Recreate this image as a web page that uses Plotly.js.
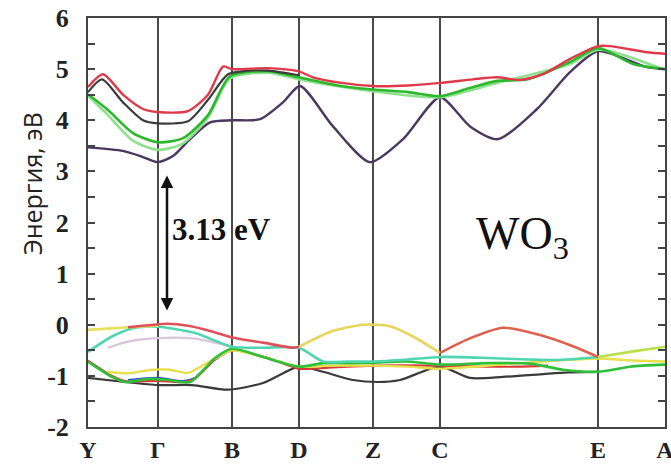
<!DOCTYPE html>
<html>
<head>
<meta charset="utf-8">
<script src="https://cdn.plot.ly/plotly-3.0.1.min.js"></script>
<style>html,body{margin:0;padding:0;background:#fff;}#chart{width:671px;height:464px;}</style>
</head>
<body>
<div id="chart"></div>
<script>
// High-symmetry k-points (path coordinate) and labels
const kLabels = ['Y', 'Γ', 'B', 'D', 'Z', 'C', 'E', 'A'];
const kPos = [0, 70, 144, 211, 285, 352, 510, 577];
const yTickVals = [-2, -1, 0, 1, 2, 3, 4, 5, 6];
const yTickText = ['-2', '-1', '0', '1', '2', '3', '4', '5', '6'];

// ---- Conduction bands ----
const cbRedX = [0, 15, 35, 55, 70, 100, 120, 135, 144, 179, 210, 225, 250, 285, 320, 352, 385, 409, 432, 455, 482, 510, 522, 559, 577];
const cbRedY = [4.65, 4.9, 4.5, 4.22, 4.16, 4.18, 4.5, 5.05, 5.0, 5.02, 4.96, 4.84, 4.74, 4.67, 4.68, 4.73, 4.8, 4.84, 4.79, 4.9, 5.2, 5.45, 5.45, 5.33, 5.3];
const cbGrayX = [0, 14, 35, 55, 70, 100, 120, 140, 160, 180, 211];
const cbGrayY = [4.55, 4.8, 4.35, 4.0, 3.94, 3.98, 4.4, 4.9, 4.97, 4.97, 4.88];
const cbGreenX = [0, 20, 45, 70, 95, 120, 142, 180, 211, 250, 285, 320, 352, 380, 409, 440, 482, 510, 545, 577];
const cbGreenY = [4.51, 4.2, 3.75, 3.57, 3.65, 4.1, 4.86, 4.96, 4.84, 4.68, 4.6, 4.55, 4.47, 4.62, 4.77, 4.8, 5.14, 5.41, 5.1, 5.0];
const cbLtGreenX = [0, 20, 45, 70, 95, 120, 142, 180, 211, 285, 352, 409, 482, 510, 577];
const cbLtGreenY = [4.48, 4.1, 3.6, 3.42, 3.55, 4.05, 4.82, 4.93, 4.8, 4.57, 4.45, 4.73, 5.1, 5.38, 4.98];
const cbPurpleX = [0, 35, 55, 70, 85, 102, 122, 144, 172, 195, 212, 245, 282, 315, 352, 382, 410, 449, 482, 510, 559, 577];
const cbPurpleY = [3.47, 3.4, 3.28, 3.18, 3.3, 3.63, 3.96, 4.0, 4.02, 4.35, 4.67, 3.88, 3.18, 3.63, 4.45, 3.88, 3.63, 4.22, 4.94, 5.35, 5.04, 5.0];

// ---- Valence bands ----
const vbTopYellowAX = [0, 40, 70];
const vbTopYellowAY = [-0.1, -0.05, -0.02];
const vbTopRedAX = [40, 80, 100, 124, 144, 175, 205, 211];
const vbTopRedAY = [-0.05, 0.02, -0.02, -0.13, -0.25, -0.35, -0.45, -0.43];
const vbTopYellowBX = [211, 242, 275, 302, 325, 352];
const vbTopYellowBY = [-0.43, -0.14, 0.0, -0.03, -0.23, -0.55];
const vbTopRedBX = [352, 379, 415, 452, 485, 510];
const vbTopRedBY = [-0.55, -0.29, -0.06, -0.2, -0.42, -0.63];
const vbTopLimeX = [510, 542, 577];
const vbTopLimeY = [-0.63, -0.53, -0.43];
const vbCyanX = [0, 24, 47, 70, 107, 144, 175, 211, 235, 260, 285, 320, 352, 400, 440, 469, 510];
const vbCyanY = [-0.53, -0.23, -0.06, -0.04, -0.16, -0.43, -0.45, -0.45, -0.72, -0.72, -0.72, -0.68, -0.63, -0.65, -0.68, -0.69, -0.63];
const vbPinkX = [20, 40, 70, 107, 144];
const vbPinkY = [-0.45, -0.33, -0.26, -0.27, -0.43];
const vbGreenX = [0, 24, 37, 60, 80, 102, 127, 144, 175, 211, 235, 260, 285, 320, 352, 400, 442, 475, 510, 542, 577];
const vbGreenY = [-0.72, -1.02, -1.12, -1.06, -1.08, -1.12, -0.65, -0.47, -0.63, -0.82, -0.75, -0.75, -0.74, -0.72, -0.78, -0.75, -0.76, -0.88, -0.92, -0.82, -0.78];
const vbBlackX = [0, 37, 70, 104, 140, 175, 211, 235, 265, 290, 312, 352, 382, 415, 452, 480, 510];
const vbBlackY = [-1.04, -1.12, -1.18, -1.18, -1.27, -1.14, -0.82, -0.92, -1.08, -1.12, -1.08, -0.82, -1.04, -1.02, -0.97, -0.93, -0.92];
const vbYellowX = [20, 40, 64, 82, 100, 125, 144, 175, 211, 240, 285, 320, 352, 400, 432, 470, 510, 545, 577];
const vbYellowY = [-0.92, -0.95, -0.88, -0.88, -0.94, -0.68, -0.5, -0.63, -0.82, -0.8, -0.8, -0.82, -0.86, -0.8, -0.75, -0.7, -0.66, -0.7, -0.72];
const vbRedX = [0, 24, 37, 70, 95, 107, 127, 144, 180, 211, 240, 285, 352, 400, 430, 460];
const vbRedY = [-0.7, -1.0, -1.1, -1.1, -1.12, -1.05, -0.68, -0.5, -0.65, -0.86, -0.84, -0.8, -0.8, -0.82, -0.82, -0.8];
const vbBlueX = [40, 70, 95, 107, 127, 144];
const vbBlueY = [-1.08, -1.04, -1.1, -1.04, -0.67, -0.48];

// Gap annotation values
const gapTop = 2.92, gapBottom = 0.25, gapX = 79;
const gapText = '3.13 eV';

const SERIF = 'Liberation Serif';

function band(x, y, color, w) {
  return {x: x, y: y, type: 'scatter', mode: 'lines', hoverinfo: 'skip',
    line: {color: color, width: w || 2, shape: 'spline', smoothing: 0.7}};
}

const traces = [
  band(vbBlackX, vbBlackY, '#3a3a3a', 2.2),
  band(vbBlueX, vbBlueY, '#3450c8', 2.2),
  band(vbRedX, vbRedY, '#d83a3a', 2.2),
  band(vbYellowX, vbYellowY, '#e6e04a', 2.4),
  band(vbGreenX, vbGreenY, '#2fbf3a', 2.6),
  band(vbPinkX, vbPinkY, '#d9c4dc', 2.2),
  band(vbCyanX, vbCyanY, '#4fd6b0', 2.6),
  band(vbTopYellowAX, vbTopYellowAY, '#e8df5a', 2.6),
  band(vbTopRedAX, vbTopRedAY, '#e0505a', 2.6),
  band(vbTopYellowBX, vbTopYellowBY, '#e6d65a', 2.6),
  band(vbTopRedBX, vbTopRedBY, '#e0604e', 2.6),
  band(vbTopLimeX, vbTopLimeY, '#b8e04a', 2.6),
  band(cbPurpleX, cbPurpleY, '#4a3860', 2.4),
  band(cbLtGreenX, cbLtGreenY, '#8fe08f', 2.6),
  band(cbGreenX, cbGreenY, '#2cb82c', 2.6),
  band(cbGrayX, cbGrayY, '#3c3c3c', 2.2),
  band(cbRedX, cbRedY, '#e03a4a', 2.4)
];

const layout = {
  width: 671, height: 464,
  margin: {l: 88, r: 6, t: 18, b: 37},
  paper_bgcolor: '#ffffff', plot_bgcolor: '#ffffff',
  showlegend: false,
  xaxis: {
    range: [0, 577], tickmode: 'array', tickvals: kPos,
    ticktext: kLabels.map(s => '<b>' + s + '</b>'),
    showgrid: true, gridcolor: '#4a4a4a', gridwidth: 2, zeroline: false,
    showline: true, mirror: true, linecolor: '#444444', linewidth: 2,
    ticks: '', ticklabelstandoff: 0, ticklabeloverflow: 'allow',
    tickfont: {family: SERIF, size: 24, color: '#222222'}
  },
  yaxis: {
    range: [-2, 6], tickmode: 'array', tickvals: yTickVals,
    ticktext: yTickText.map(s => '<b>' + s + '</b>'),
    showgrid: false, zeroline: false,
    showline: true, mirror: 'ticks', linecolor: '#444444', linewidth: 2,
    ticks: 'inside', ticklen: 7, tickwidth: 2, tickcolor: '#444444',
    minor: {dtick: 0.5, ticks: 'inside', ticklen: 7, tickwidth: 2, tickcolor: '#444444'},
    ticklabelstandoff: 12,
    tickfont: {family: SERIF, size: 26, color: '#222222'}
  },
  annotations: [
    {x: gapX, y: gapTop, ax: gapX, ay: gapBottom, xref: 'x', yref: 'y', axref: 'x', ayref: 'y',
     text: '', showarrow: true, arrowhead: 2, startarrowhead: 2, arrowside: 'end+start',
     arrowsize: 1, startarrowsize: 1, arrowwidth: 2.5, arrowcolor: '#111111'},
    {x: gapX + 3, y: 1.86, xref: 'x', yref: 'y', text: '<b>' + gapText + '</b>', showarrow: false,
     xanchor: 'left', yanchor: 'middle',
     font: {family: SERIF, size: 31, color: '#111111'}},
    {x: 434, y: 1.72, xref: 'x', yref: 'y', text: 'WO<sub>3</sub>', showarrow: false,
     xanchor: 'center', yanchor: 'middle',
     font: {family: SERIF, size: 46, color: '#111111'}},
    {x: -0.097, y: 0.594, xref: 'paper', yref: 'paper', text: 'Энергия, эВ', showarrow: false,
     textangle: -90, xanchor: 'center', yanchor: 'middle',
     font: {family: 'Open Sans', size: 25, color: '#222222'}}
  ]
};

Plotly.newPlot('chart', traces, layout, {displayModeBar: false, staticPlot: true});
</script>
</body>
</html>
